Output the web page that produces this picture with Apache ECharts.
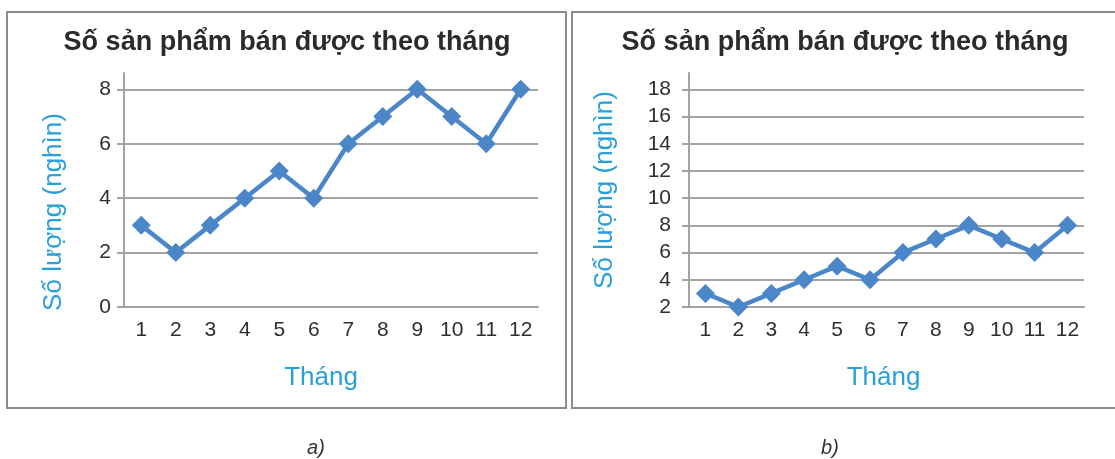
<!DOCTYPE html>
<html>
<head>
<meta charset="utf-8">
<script src="https://cdn.jsdelivr.net/npm/echarts@6/dist/echarts.min.js"></script>
<style>
  html, body { margin: 0; padding: 0; background: #fff; }
  #chart { width: 1115px; height: 459px; }
</style>
</head>
<body>
<div id="chart"></div>
<script>
// dữ liệu
const months = ["1", "2", "3", "4", "5", "6", "7", "8", "9", "10", "11", "12"];
const sales = [3, 2, 3, 4, 5, 4, 6, 7, 8, 7, 6, 8]; // nghìn sản phẩm
const yTicksA = [0, 2, 4, 6, 8];
const yTicksB = [2, 4, 6, 8, 10, 12, 14, 16, 18];

const titleText = "Số sản phẩm bán được theo tháng";
const xName = "Tháng";
const yName = "Số lượng (nghìn)";
const captions = ["a)", "b)"];

const FONT = "'Liberation Sans', Arial, sans-serif";
const BLUE = "#4a86c8";
const NAME_BLUE = "#2a9fd9";
const GRID_GRAY = "#a3a3a3";
const LABEL = "#2e2e2e";

const chart = echarts.init(document.getElementById("chart"));

// trục x dùng chung cho 2 biểu đồ
const makeXAxis = (gridIndex, namePad) => ({
  type: "category",
  gridIndex,
  data: months,
  boundaryGap: true,
  name: xName,
  nameLocation: "middle",
  nameGap: 58,
  nameTextStyle: {
    color: NAME_BLUE,
    fontSize: 26,
    fontFamily: FONT,
    padding: namePad,
  },
  axisLine: { lineStyle: { color: GRID_GRAY, width: 2 } },
  axisTick: { alignWithLabel: true, length: 6, lineStyle: { color: "#b5b5b5", width: 2 } },
  axisLabel: { color: LABEL, fontSize: 21, fontFamily: FONT, margin: 13, interval: 0 },
  splitLine: { show: false },
});

const makeYAxis = (gridIndex, min, max, ticks, nameGap, namePad, labelMargin) => ({
  type: "value",
  gridIndex,
  min,
  max,
  interval: 2,
  name: yName,
  nameLocation: "middle",
  nameGap,
  nameRotate: 90,
  nameTextStyle: {
    color: NAME_BLUE,
    fontSize: 26,
    fontFamily: FONT,
    padding: namePad,
  },
  axisLine: { show: true, lineStyle: { color: GRID_GRAY, width: 2 } },
  axisTick: { show: true, length: 7, customValues: ticks, lineStyle: { color: GRID_GRAY, width: 2 } },
  axisLabel: {
    color: LABEL,
    fontSize: 21,
    fontFamily: FONT,
    margin: labelMargin,
    customValues: ticks,
  },
  splitLine: {
    show: true,
    lineStyle: { color: GRID_GRAY, width: 2 },
  },
});

const makeSeries = (idx) => ({
  type: "line",
  xAxisIndex: idx,
  yAxisIndex: idx,
  data: sales,
  symbol: "diamond",
  symbolSize: 19,
  showSymbol: true,
  lineStyle: { color: BLUE, width: 4.5 },
  itemStyle: { color: BLUE },
  emphasis: { disabled: true },
  z: 5,
});

const titleStyle = { fontSize: 27, fontWeight: "bold", color: "#2b2b2b", fontFamily: FONT };
const captionStyle = { fontSize: 20, fontStyle: "italic", fontWeight: "normal", color: "#333", fontFamily: FONT };

const option = {
  animation: false,
  textStyle: { fontFamily: FONT },
  title: [
    { text: titleText, left: 287, top: 29, textAlign: "center", padding: 0, textStyle: titleStyle },
    { text: titleText, left: 845, top: 29, textAlign: "center", padding: 0, textStyle: titleStyle },
    { text: captions[0], left: 316, top: 438, textAlign: "center", padding: 0, textStyle: captionStyle },
    { text: captions[1], left: 830, top: 438, textAlign: "center", padding: 0, textStyle: captionStyle },
  ],
  // khung viền hai hình
  graphic: [
    {
      type: "rect",
      shape: { x: 7, y: 12, width: 559, height: 396 },
      style: { fill: "none", stroke: "#8c8c8c", lineWidth: 2 },
      silent: true,
    },
    {
      type: "rect",
      shape: { x: 572, y: 12, width: 560, height: 396 },
      style: { fill: "none", stroke: "#8c8c8c", lineWidth: 2 },
      silent: true,
    },
  ],
  grid: [
    { left: 124, top: 73, width: 414, height: 234 },
    { left: 689, top: 73, width: 395, height: 234 },
  ],
  xAxis: [makeXAxis(0, [0, 20, 0, 0]), makeXAxis(1, [0, 6, 0, 0])],
  yAxis: [
    makeYAxis(0, 0, 8.6, yTicksA, 57, [0, 44, 0, 0], 13),
    makeYAxis(1, 2, 19.2, yTicksB, 71, 0, 18),
  ],
  series: [makeSeries(0), makeSeries(1)],
};

chart.setOption(option);

window.addEventListener("resize", () => chart.resize());
</script>
</body>
</html>
